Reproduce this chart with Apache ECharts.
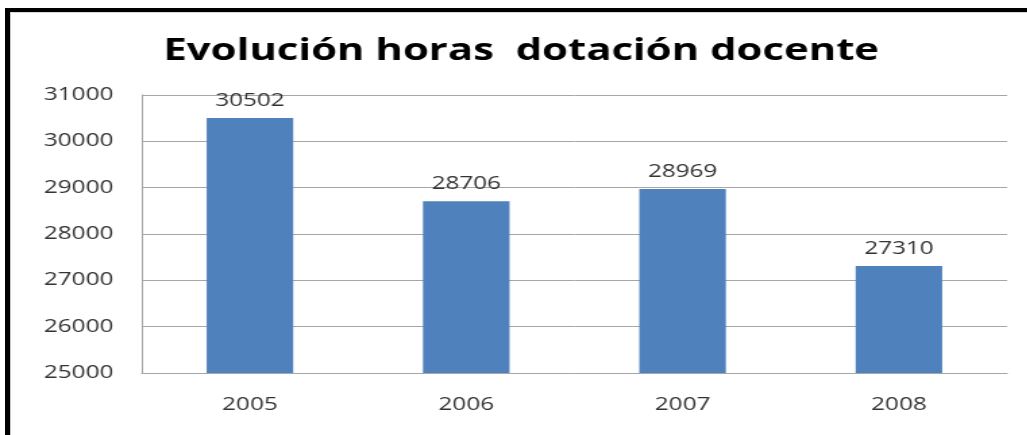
<!DOCTYPE html>
<html>
<head>
<meta charset="utf-8">
<script src="https://cdn.jsdelivr.net/npm/echarts@6/dist/echarts.min.js"></script>
<style>
  html, body { margin: 0; padding: 0; background: #fff; }
  #frame { position: absolute; left: 5px; top: 8px; width: 1022px; height: 427px;
           border-left: 5px solid #000; border-top: 4px solid #000; box-sizing: border-box; }
  #inner { position: absolute; left: 0; top: 0; right: 0; bottom: 0;
           border-left: 1px solid #c8c8c8; border-top: 1px solid #d8d8d8; }
  /* the original picture is stretched sideways, so the chart is drawn narrow and widened */
  #chart { position: absolute; left: 0; top: 0; width: 761px; height: 435px;
           transform: scaleX(1.35); transform-origin: 0 0; }
</style>
</head>
<body>
<div id="frame"><div id="inner"></div></div>
<div id="chart"></div>
<script>
var years = ['2005', '2006', '2007', '2008'];
var hours = [30502, 28706, 28969, 27310];
var yTicks = [25000, 26000, 27000, 28000, 29000, 30000, 31000];

var chartDom = document.getElementById('chart');
var myChart = echarts.init(chartDom);
var option = {
  animation: false,
  title: {
    text: 'Evolución horas  dotación docente',
    left: 116,
    top: 31,
    textStyle: {
      fontFamily: 'Open Sans',
      fontWeight: 'bold',
      fontSize: 31,
      color: '#000'
    }
  },
  grid: {
    left: 105,
    right: 15,
    top: 95,
    bottom: 62
  },
  xAxis: {
    type: 'category',
    data: years,
    axisLine: { lineStyle: { color: '#a6a6a6', width: 1 } },
    axisTick: { show: false },
    axisLabel: {
      margin: 23,
      fontFamily: 'Open Sans',
      fontSize: 18,
      color: '#333'
    }
  },
  yAxis: {
    type: 'value',
    min: yTicks[0],
    max: yTicks[yTicks.length - 1],
    interval: 1000,
    axisLine: { show: true, lineStyle: { color: '#a6a6a6', width: 1 } },
    axisTick: { show: false },
    splitLine: { lineStyle: { color: '#a6a6a6', width: 1 } },
    axisLabel: {
      margin: 21,
      fontFamily: 'Open Sans',
      fontSize: 18,
      color: '#333',
      formatter: function (v) { return String(v); }
    }
  },
  series: [
    {
      type: 'bar',
      data: hours,
      barWidth: '40%',
      itemStyle: { color: '#4f81bd' },
      label: {
        show: true,
        position: 'top',
        distance: 8,
        fontFamily: 'Open Sans',
        fontSize: 18,
        color: '#333'
      }
    }
  ]
};
myChart.setOption(option);
</script>
</body>
</html>
